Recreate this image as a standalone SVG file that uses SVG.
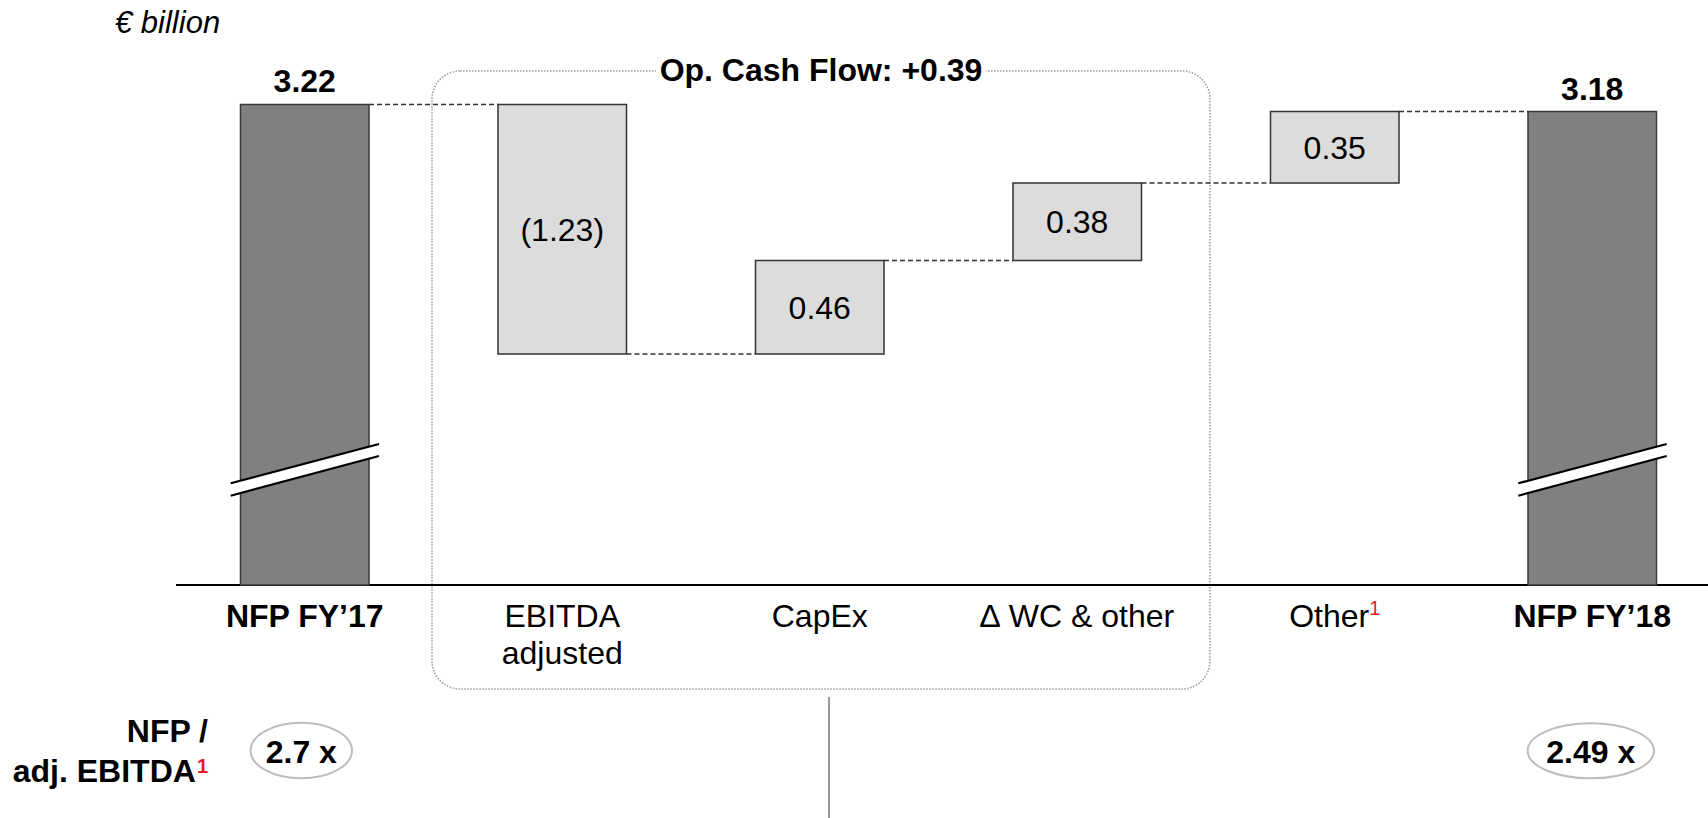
<svg xmlns="http://www.w3.org/2000/svg" width="1708" height="818" viewBox="0 0 1708 818">
<style>
text{font-family:"Liberation Sans",Arial,sans-serif;fill:#000}
.b{font-weight:bold}
.v{font-size:32px;text-anchor:middle}
.lbl{font-size:32px;text-anchor:middle}
.sup{fill:#e31e24;font-size:20px}
.dark{fill:#808080;stroke:#3a3a3a;stroke-width:1.5}
.light{fill:#dcdcdc;stroke:#333;stroke-width:1.5}
.dash{stroke:#333;stroke-width:1.3;stroke-dasharray:5 3;fill:none}
.brk{stroke:#000;stroke-width:2.2;fill:none}
.oval{fill:#fff;stroke:#bdbdbd;stroke-width:2}
</style>
<rect width="1708" height="818" fill="#fff"/>
<text x="115" y="33" font-size="31" font-style="italic">€ billion</text>
<g id="opcf-frame">
<rect x="432" y="71" width="778" height="618" rx="28" ry="28" fill="none" stroke="#9a9a9a" stroke-width="1.5" stroke-dasharray="1.5 1.5"/>
<rect x="656" y="55" width="330" height="30" fill="#fff"/>
<text x="821" y="81" class="b" font-size="32" text-anchor="middle">Op. Cash Flow: +0.39</text>
</g>
<line x1="176" y1="585" x2="1708" y2="585" stroke="#000" stroke-width="2"/>
<g id="connectors">
<line class="dash" x1="369" y1="104.5" x2="498" y2="104.5"/>
<line class="dash" x1="626.5" y1="354" x2="755.5" y2="354"/>
<line class="dash" x1="884" y1="260.5" x2="1013" y2="260.5"/>
<line class="dash" x1="1141.5" y1="183" x2="1270.5" y2="183"/>
<line class="dash" x1="1399" y1="111.5" x2="1528" y2="111.5"/>
<line x1="829" y1="697" x2="829" y2="818" stroke="#808080" stroke-width="1.6"/>
</g>
<g id="nfp17">
<rect class="dark" x="240.5" y="104.5" width="128.5" height="480.5"/>
<polygon points="230.7,483.3 379,444 379,456 230.7,495.7" fill="#fff"/>
<line class="brk" x1="230.7" y1="483.3" x2="379" y2="444"/>
<line class="brk" x1="230.7" y1="495.7" x2="379" y2="456"/>
<text class="v b" x="304.75" y="92">3.22</text>
<text class="lbl b" x="304.75" y="627">NFP FY’17</text>
</g>
<g id="ebitda">
<rect class="light" x="498" y="104.5" width="128.5" height="249.5"/>
<text class="v" x="562.25" y="240.5">(1.23)</text>
<text class="lbl" x="562.25" y="627">EBITDA</text>
<text class="lbl" x="562.25" y="663.5">adjusted</text>
</g>
<g id="capex">
<rect class="light" x="755.5" y="260.5" width="128.5" height="93.5"/>
<text class="v" x="819.75" y="319">0.46</text>
<text class="lbl" x="819.75" y="627">CapEx</text>
</g>
<g id="wc">
<rect class="light" x="1013" y="183" width="128.5" height="77.5"/>
<text class="v" x="1077.25" y="233.3">0.38</text>
<text class="lbl" x="1077.25" y="627">∆ WC &amp; other</text>
</g>
<g id="other">
<rect class="light" x="1270.5" y="111.5" width="128.5" height="71.5"/>
<text class="v" x="1334.75" y="159">0.35</text>
<text class="lbl" x="1334.75" y="627">Other<tspan class="sup" dy="-12">1</tspan></text>
</g>
<g id="nfp18">
<rect class="dark" x="1528" y="111.5" width="128.5" height="473.5"/>
<polygon points="1518.3,483.3 1666.7,444 1666.7,456 1518.3,495.7" fill="#fff"/>
<line class="brk" x1="1518.3" y1="483.3" x2="1666.7" y2="444"/>
<line class="brk" x1="1518.3" y1="495.7" x2="1666.7" y2="456"/>
<text class="v b" x="1592.25" y="99.5">3.18</text>
<text class="lbl b" x="1592.25" y="627">NFP FY’18</text>
</g>
<g id="ratio-label">
<text class="b" x="208" y="741.5" font-size="32" text-anchor="end">NFP /</text>
<text class="b" x="208" y="781.5" font-size="32" text-anchor="end">adj. EBITDA<tspan class="sup" font-weight="bold" dx="1" dy="-9">1</tspan></text>
</g>
<g id="ratio17">
<ellipse class="oval" cx="301.3" cy="750.5" rx="50.7" ry="27.8"/>
<text class="v b" x="301.3" y="763">2.7 x</text>
</g>
<g id="ratio18">
<ellipse class="oval" cx="1590.8" cy="750.8" rx="63.2" ry="27.5"/>
<text class="v b" x="1590.8" y="763">2.49 x</text>
</g>
</svg>
